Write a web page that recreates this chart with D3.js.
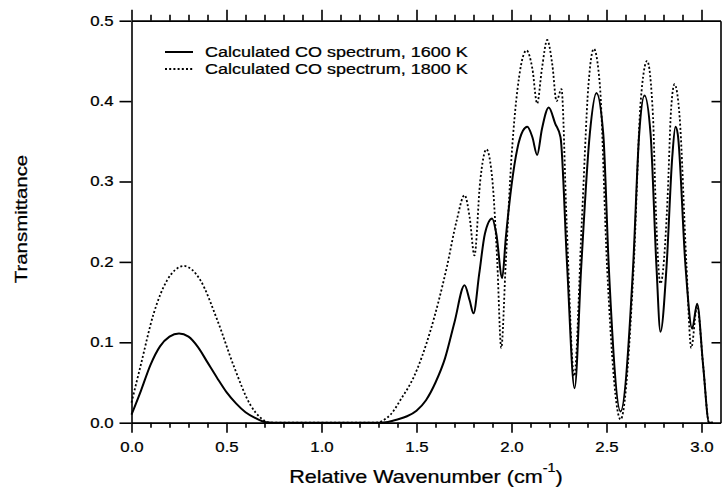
<!DOCTYPE html>
<html lang="en">
<head>
  <meta charset="UTF-8" />
  <script src="https://d3js.org/d3.v7.min.js"></script>
  <title>Calculated CO spectrum</title>
  <style>
    body { margin: 0; background: #fff; }
    svg text { font-family: "Liberation Sans", Arial, Helvetica, sans-serif; fill: #000; stroke: #000; stroke-width: 0.25px; }
  </style>
</head>
<body>
  <div id="chart"></div>
  <script>
    // values: relative wavenumber (cm-1) and transmittance
    const wn1600 = [0.00, 0.05, 0.10, 0.15, 0.20, 0.25, 0.30, 0.35, 0.40, 0.45, 0.50, 0.55, 0.60, 0.65, 0.70, 0.75,
      1.30, 1.35, 1.40, 1.45, 1.50, 1.55, 1.60, 1.65, 1.70, 1.753, 1.78, 1.80, 1.83, 1.86, 1.898, 1.92, 1.951,
      1.97, 2.00, 2.03, 2.06, 2.083, 2.11, 2.135, 2.16, 2.196, 2.23, 2.258, 2.293, 2.332, 2.367, 2.412, 2.447,
      2.483, 2.512, 2.574, 2.64, 2.672, 2.70, 2.732, 2.763, 2.784, 2.816, 2.846, 2.863, 2.875, 2.916, 2.951,
      2.977, 3.009, 3.04, 3.06];
    const tr1600 = [0.010, 0.040, 0.072, 0.095, 0.107, 0.111, 0.107, 0.094, 0.075, 0.056, 0.038, 0.024, 0.013, 0.006, 0.001, 0.000,
      0.000, 0.001, 0.004, 0.008, 0.015, 0.028, 0.050, 0.080, 0.125, 0.171, 0.152, 0.136, 0.185, 0.235, 0.254, 0.235, 0.180,
      0.230, 0.295, 0.340, 0.363, 0.368, 0.355, 0.333, 0.365, 0.392, 0.372, 0.355, 0.194, 0.043, 0.194, 0.359, 0.410,
      0.359, 0.194, 0.014, 0.194, 0.359, 0.407, 0.359, 0.194, 0.113, 0.194, 0.330, 0.368, 0.359, 0.194, 0.117,
      0.148, 0.070, 0.000, 0.000];

    const wn1800 = [0.00, 0.047, 0.117, 0.187, 0.23, 0.275, 0.32, 0.363, 0.451, 0.539, 0.626, 0.68, 0.73,
      1.28, 1.363, 1.42, 1.486, 1.574, 1.66, 1.71, 1.753, 1.78, 1.805, 1.835, 1.868, 1.90, 1.925, 1.946,
      1.97, 2.00, 2.04, 2.079, 2.11, 2.135, 2.16, 2.188, 2.215, 2.237, 2.263, 2.29, 2.33, 2.37, 2.405, 2.433,
      2.465, 2.503, 2.574, 2.643, 2.68, 2.714, 2.745, 2.758, 2.784, 2.821, 2.84, 2.858, 2.885, 2.92, 2.946,
      2.977, 3.009, 3.04, 3.06];
    const tr1800 = [0.025, 0.070, 0.136, 0.177, 0.190, 0.195, 0.190, 0.177, 0.128, 0.070, 0.022, 0.006, 0.000,
      0.000, 0.010, 0.030, 0.057, 0.115, 0.194, 0.250, 0.283, 0.255, 0.208, 0.300, 0.340, 0.300, 0.200, 0.093,
      0.200, 0.330, 0.430, 0.463, 0.440, 0.397, 0.440, 0.476, 0.445, 0.400, 0.415, 0.250, 0.058, 0.250, 0.420, 0.465,
      0.420, 0.194, 0.004, 0.194, 0.400, 0.450, 0.380, 0.277, 0.173, 0.277, 0.390, 0.421, 0.380, 0.200, 0.093,
      0.145, 0.070, 0.000, 0.000];

    const xTicks = [0.0, 0.5, 1.0, 1.5, 2.0, 2.5, 3.0];
    const yTicks = [0.0, 0.1, 0.2, 0.3, 0.4, 0.5];
    const legendLabels = ["Calculated CO spectrum, 1600 K", "Calculated CO spectrum, 1800 K"];

    const width = 726, height = 502;
    const margin = { top: 20.7, right: 5.5, bottom: 79.3, left: 131.5 };
    const sx = 1.2; // the printed font is wider than Helvetica metrics

    const svg = d3.select("#chart")
      .append("svg")
      .attr("width", width)
      .attr("height", height);

    const x = d3.scaleLinear()
      .domain([0, 3.1])
      .range([margin.left, width - margin.right]);

    const y = d3.scaleLinear()
      .domain([0, 0.5])
      .range([height - margin.bottom, margin.top]);

    const minorX = d3.range(1, 31).map(i => i / 10).filter(v => Math.round(v * 10) % 5 !== 0);

    function styleAxis(g) {
      g.selectAll("path, line").attr("stroke", "#000").attr("stroke-width", 1.6);
    }

    // bottom axis
    svg.append("g")
      .attr("transform", `translate(0,${y(0)})`)
      .call(d3.axisBottom(x).tickValues(minorX).tickSize(5).tickSizeOuter(0).tickFormat(""))
      .call(styleAxis);
    const bottom = svg.append("g")
      .attr("transform", `translate(0,${y(0)})`)
      .call(d3.axisBottom(x).tickValues(xTicks).tickSize(10).tickSizeOuter(0).tickPadding(9).tickFormat(d3.format(".1f")))
      .call(styleAxis);
    bottom.selectAll("text").attr("font-size", "14px").attr("transform", `scale(${sx},1)`);

    // top axis
    svg.append("g")
      .attr("transform", `translate(0,${y(0.5)})`)
      .call(d3.axisTop(x).tickValues(minorX).tickSize(6).tickSizeOuter(0).tickFormat(""))
      .call(styleAxis);
    svg.append("g")
      .attr("transform", `translate(0,${y(0.5)})`)
      .call(d3.axisTop(x).tickValues(xTicks).tickSize(11).tickSizeOuter(0).tickFormat(""))
      .call(styleAxis);

    // left axis
    const left = svg.append("g")
      .attr("transform", `translate(${x(0)},0)`)
      .call(d3.axisLeft(y).tickValues(yTicks).tickSize(12).tickSizeOuter(0).tickFormat(d3.format(".1f")))
      .call(styleAxis);
    left.selectAll("text")
      .attr("font-size", "14px")
      .attr("x", -18 / sx)
      .attr("transform", `scale(${sx},1)`);

    // right axis, ticks pointing inward
    svg.append("g")
      .attr("transform", `translate(${x(3.1)},0)`)
      .call(d3.axisRight(y).tickValues(yTicks.slice(1, 5)).tickSize(-9).tickSizeOuter(0).tickFormat(""))
      .call(styleAxis);

    const line = d3.line()
      .x(d => x(d[0]))
      .y(d => y(d[1]))
      .curve(d3.curveMonotoneX);

    svg.append("path")
      .datum(d3.zip(wn1800, tr1800))
      .attr("fill", "none")
      .attr("stroke", "#000")
      .attr("stroke-width", 1.8)
      .attr("stroke-dasharray", "2,2.2")
      .attr("d", line);

    svg.append("path")
      .datum(d3.zip(wn1600, tr1600))
      .attr("fill", "none")
      .attr("stroke", "#000")
      .attr("stroke-width", 2)
      .attr("d", line);

    // legend
    const legend = svg.append("g");
    legendLabels.forEach((label, i) => {
      const ly = 52 + i * 17;
      legend.append("line")
        .attr("x1", 165).attr("x2", 193)
        .attr("y1", ly).attr("y2", ly)
        .attr("stroke", "#000")
        .attr("stroke-width", i === 0 ? 2 : 1.8)
        .attr("stroke-dasharray", i === 0 ? null : "2,2.2");
      legend.append("text")
        .attr("transform", `translate(205,${ly + 5}) scale(${sx},1)`)
        .attr("font-size", "15px")
        .text(label);
    });

    // axis titles
    const xTitle = svg.append("text")
      .attr("transform", `translate(${(x(0) + x(3.1)) / 2},483) scale(${sx},1)`)
      .attr("text-anchor", "middle")
      .attr("font-size", "18px");
    xTitle.append("tspan").text("Relative Wavenumber (cm");
    xTitle.append("tspan").attr("font-size", "12px").attr("dy", -11).text("-1");
    xTitle.append("tspan").attr("dy", 11).text(")");

    svg.append("text")
      .attr("transform", `translate(27,219) rotate(-90) scale(${sx},1)`)
      .attr("text-anchor", "middle")
      .attr("font-size", "17px")
      .text("Transmittance");
  </script>
</body>
</html>
